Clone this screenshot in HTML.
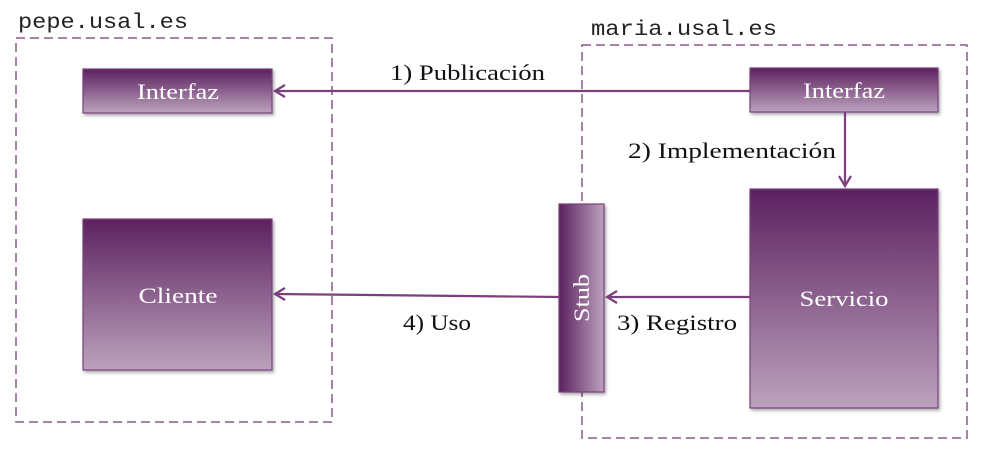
<!DOCTYPE html>
<html><head><meta charset="utf-8"><style>
html,body{margin:0;padding:0;background:#fff;}
</style></head><body>
<svg width="992" height="458" viewBox="0 0 992 458" xmlns="http://www.w3.org/2000/svg">
<defs>
<linearGradient id="gv" x1="0" y1="0" x2="0" y2="1"><stop offset="0" stop-color="#5c2160"/><stop offset="1" stop-color="#bca2bd"/></linearGradient>
<linearGradient id="gh" x1="0" y1="0" x2="1" y2="0"><stop offset="0" stop-color="#5c2160"/><stop offset="1" stop-color="#bca2bd"/></linearGradient>
<filter id="sh" x="-10%" y="-10%" width="130%" height="130%"><feDropShadow dx="1.5" dy="2" stdDeviation="1.5" flood-color="#000" flood-opacity="0.35"/></filter>
</defs>
<g font-family="Liberation Mono, monospace" font-size="21" fill="#222">
<text x="18" y="28" textLength="170" lengthAdjust="spacingAndGlyphs">pepe.usal.es</text>
<text x="591" y="35" textLength="186" lengthAdjust="spacingAndGlyphs">maria.usal.es</text>
</g>
<g fill="none" stroke="#8a5a8c" stroke-width="1.5" stroke-dasharray="9,5">
<rect x="16" y="38" width="316" height="384"/>
<rect x="582" y="45" width="385" height="393"/>
</g>
<g stroke="#7a3f7c" stroke-width="1.2" filter="url(#sh)">
<rect x="83" y="69" width="189" height="44" fill="url(#gv)"/>
<rect x="750" y="68" width="188" height="44" fill="url(#gv)"/>
<rect x="83" y="219" width="189" height="151" fill="url(#gv)"/>
<rect x="750" y="189" width="188" height="219" fill="url(#gv)"/>
<rect x="559" y="204" width="45" height="188" fill="url(#gh)"/>
</g>
<g font-family="Liberation Serif, serif" font-size="22" fill="#fff" text-anchor="middle" lengthAdjust="spacingAndGlyphs">
<text x="178" y="99" textLength="82" lengthAdjust="spacingAndGlyphs">Interfaz</text>
<text x="844" y="98" textLength="82" lengthAdjust="spacingAndGlyphs">Interfaz</text>
<text x="178" y="303" textLength="79" lengthAdjust="spacingAndGlyphs">Cliente</text>
<text x="844" y="306" textLength="89" lengthAdjust="spacingAndGlyphs">Servicio</text>
<text transform="translate(589,298) rotate(-90)" textLength="48" lengthAdjust="spacingAndGlyphs">Stub</text>
</g>
<g stroke="#7a3f7c" stroke-width="2.2" fill="none">
<line x1="750" y1="91" x2="275" y2="91"/>
<polyline points="285,85 275,91 285,97"/>
<line x1="845" y1="112" x2="845" y2="186"/>
<polyline points="839,176 845,186 851,176"/>
<line x1="750" y1="297" x2="607" y2="297"/>
<polyline points="617,291 607,297 617,303"/>
<line x1="559" y1="297" x2="275" y2="294"/>
<polyline points="285,288 275,294 285,300"/>
</g>
<g font-family="Liberation Serif, serif" font-size="22" fill="#111">
<text x="390" y="80" textLength="155" lengthAdjust="spacingAndGlyphs">1) Publicación</text>
<text x="628" y="158" textLength="208" lengthAdjust="spacingAndGlyphs">2) Implementación</text>
<text x="617" y="330" textLength="120" lengthAdjust="spacingAndGlyphs">3) Registro</text>
<text x="403" y="330" textLength="68" lengthAdjust="spacingAndGlyphs">4) Uso</text>
</g>
</svg>
</body></html>
